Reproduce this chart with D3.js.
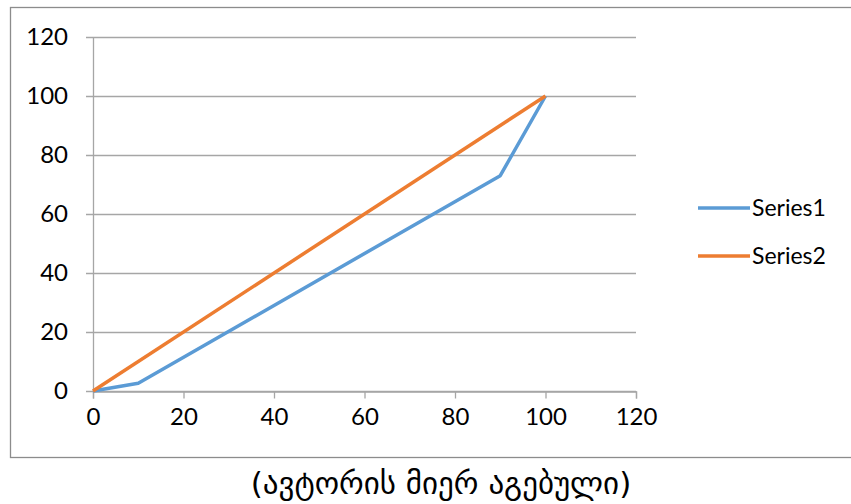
<!DOCTYPE html>
<html>
<head>
<meta charset="utf-8">
<script src="https://cdn.jsdelivr.net/npm/d3@7"></script>
<style>
  body { margin: 0; background: #fff; }
  svg text { font-family: Lato, "Open Sans", sans-serif; fill: #000; }
</style>
</head>
<body>
<div id="chart"></div>
<script>
// data
const seriesNames = ["Series1", "Series2"];
const series1X = [0, 10, 90, 100];
const series1Y = [0, 2.6, 73, 100];
const series2X = [0, 100];
const series2Y = [0, 100];
const xTicks = [0, 20, 40, 60, 80, 100, 120];
const yTicks = [0, 20, 40, 60, 80, 100, 120];
const colors = ["#5B9BD5", "#ED7D31"];
const caption = "(ავტორის მიერ აგებული)";

const W = 851, H = 504;
const plot = { left: 93, right: 636, top: 37, bottom: 391 };

const svg = d3.select("#chart").append("svg")
    .attr("width", W)
    .attr("height", H);

// outer chart frame (runs off the right edge like in the picture)
svg.append("rect")
    .attr("x", 10.5).attr("y", 7.5)
    .attr("width", W + 10).attr("height", 450)
    .attr("fill", "none")
    .attr("stroke", "#8c8c8c")
    .attr("stroke-width", 1.3);

const x = d3.scaleLinear().domain([0, 120]).range([plot.left, plot.right]);
const y = d3.scaleLinear().domain([0, 120]).range([plot.bottom, plot.top]);

// horizontal gridlines
svg.append("g")
    .selectAll("line")
    .data(yTicks)
    .enter().append("line")
    .attr("x1", plot.left - 7)
    .attr("x2", plot.right)
    .attr("y1", d => Math.round(y(d)) + 0.5)
    .attr("y2", d => Math.round(y(d)) + 0.5)
    .attr("stroke", "#a6a6a6")
    .attr("stroke-width", 1.3);

// x axis
const xAxis = svg.append("g")
    .attr("transform", `translate(0, ${Math.round(plot.bottom) + 0.5})`)
    .call(d3.axisBottom(x).tickValues(xTicks).tickSize(7).tickPadding(9));
xAxis.select(".domain").attr("stroke", "#a6a6a6").attr("stroke-width", 1.3);
xAxis.selectAll(".tick line").attr("stroke", "#a6a6a6").attr("stroke-width", 1.3);
xAxis.selectAll("text").attr("font-size", 24).attr("font-family", "Lato, sans-serif").attr("fill", "#000");

// y axis (vertical line only, labels on the left)
svg.append("line")
    .attr("x1", plot.left + 0.5).attr("x2", plot.left + 0.5)
    .attr("y1", plot.top).attr("y2", plot.bottom)
    .attr("stroke", "#a6a6a6")
    .attr("stroke-width", 1.3);

svg.append("g")
    .selectAll("text")
    .data(yTicks)
    .enter().append("text")
    .attr("x", plot.left - 25)
    .attr("y", d => y(d))
    .attr("dy", "0.35em")
    .attr("text-anchor", "end")
    .attr("font-size", 24)
    .text(d => d);

// lines
const line = d3.line()
    .x(d => x(d[0]))
    .y(d => y(d[1]));

const lineData = [
    d3.zip(series1X, series1Y),
    d3.zip(series2X, series2Y)
];

svg.append("g")
    .selectAll("path")
    .data(lineData)
    .enter().append("path")
    .attr("d", line)
    .attr("fill", "none")
    .attr("stroke", (d, i) => colors[i])
    .attr("stroke-width", 3.5)
    .attr("stroke-linejoin", "round");

// legend
const legend = svg.append("g");
seriesNames.forEach((name, i) => {
    const ly = 208 + i * 48;
    legend.append("line")
        .attr("x1", 698).attr("x2", 750)
        .attr("y1", ly).attr("y2", ly)
        .attr("stroke", colors[i])
        .attr("stroke-width", 3.5);
    legend.append("text")
        .attr("x", 752)
        .attr("y", ly)
        .attr("dy", "0.35em")
        .attr("font-size", 23)
        .text(name);
});

// caption under the frame
svg.append("text")
    .attr("x", 441)
    .attr("y", 494)
    .attr("text-anchor", "middle")
    .attr("font-size", 31)
    .style("font-family", "'DejaVu Sans', 'Noto Sans', sans-serif")
    .text(caption);
</script>
</body>
</html>
